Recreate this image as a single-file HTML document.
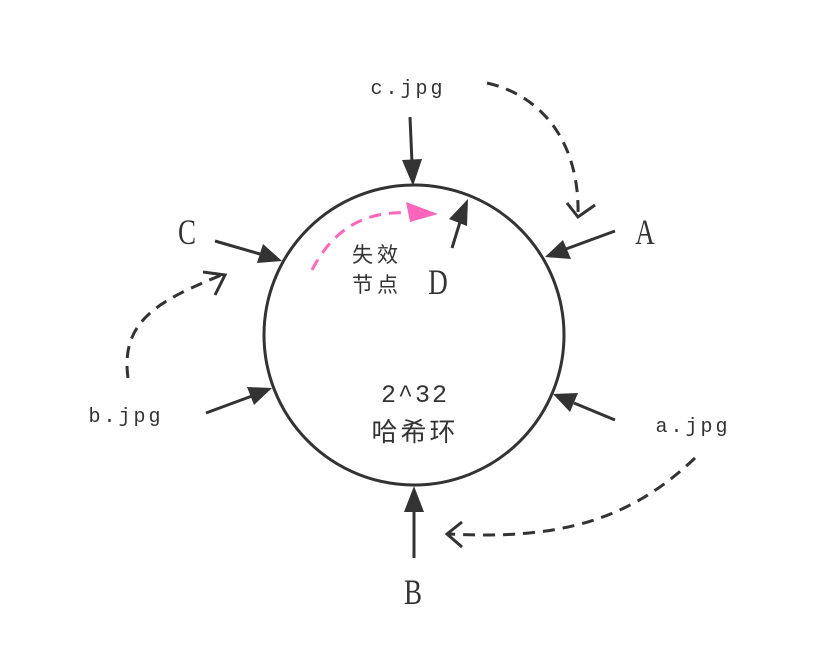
<!DOCTYPE html>
<html><head><meta charset="utf-8"><style>
html,body{margin:0;padding:0;background:#fff;}
svg{display:block;}
.t{font-family:"Liberation Mono","Noto Sans CJK SC",monospace;fill:#333;}
.c{font-family:"Liberation Sans","Noto Sans CJK SC",sans-serif;fill:#333;}
.L{font-family:"Liberation Serif",serif;fill:#333;font-size:36px;}
</style></head><body>
<svg width="824" height="670" viewBox="0 0 824 670">
<circle cx="414" cy="335" r="150" fill="none" stroke="#333" stroke-width="3"/>
<g stroke="#333" stroke-width="3" fill="none">
<line x1="410" y1="117" x2="412" y2="163"/>
<line x1="615" y1="231" x2="566" y2="249"/>
<line x1="215" y1="241" x2="260" y2="254"/>
<line x1="452" y1="248" x2="460" y2="222"/>
<line x1="206" y1="413" x2="252" y2="396"/>
<line x1="615" y1="420" x2="574" y2="403"/>
<line x1="414" y1="558" x2="414" y2="510"/>
</g>
<g fill="#333">
<polygon points="413,186 402,160 422,159"/>
<polygon points="545,257 563,240 571,259"/>
<polygon points="282,261 257,263 263,244"/>
<polygon points="468,199 467,226 449,219"/>
<polygon points="272,388 254,405 247,387"/>
<polygon points="553,394 578,393 570,412"/>
<polygon points="414,486 424,512 404,512"/>
</g>
<g stroke="#333" stroke-width="3" fill="none" stroke-dasharray="12,8">
<path d="M487,83 C540,95 580,140 578,216"/>
<path d="M128,378 C120,320 160,300 224,274"/>
<path d="M695,458 C630,520 560,540 449,534"/>
</g>
<g stroke="#333" stroke-width="3" fill="none">
<polyline points="567,203 578,217 595,205"/>
<polyline points="203,272 225,275 215,295"/>
<polyline points="462,522 447,534 462,547"/>
</g>
<path d="M312,270 C335,225 370,210 412,213" stroke="#ff66bb" stroke-width="3" fill="none" stroke-dasharray="12,8"/>
<polygon points="438,214 406,202 410,222" fill="#ff66bb"/>
<text class="t" x="408" y="94" font-size="20" letter-spacing="3" text-anchor="middle">c.jpg</text>
<text class="t" x="126" y="422" font-size="20" letter-spacing="3" text-anchor="middle">b.jpg</text>
<text class="t" x="693" y="432" font-size="20" letter-spacing="3" text-anchor="middle">a.jpg</text>
<text class="L" transform="translate(645,244) scale(0.75,1)" text-anchor="middle">A</text>
<text class="L" transform="translate(187,244) scale(0.75,1)" text-anchor="middle">C</text>
<text class="L" transform="translate(438,294) scale(0.75,1)" text-anchor="middle">D</text>
<text class="L" transform="translate(413,604) scale(0.75,1)" text-anchor="middle">B</text>
<text class="c" x="377" y="262" font-size="21" letter-spacing="4" text-anchor="middle">失效</text>
<text class="c" x="377" y="292" font-size="21" letter-spacing="4" text-anchor="middle">节点</text>
<text class="t" x="415" y="402" font-size="25" letter-spacing="2" text-anchor="middle">2^32</text>
<text class="c" x="415" y="441" font-size="26" letter-spacing="3" text-anchor="middle">哈希环</text>
</svg>
</body></html>
